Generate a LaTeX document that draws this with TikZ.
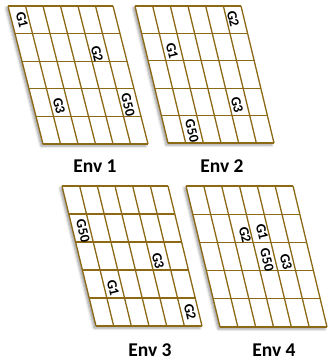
\documentclass[tikz,border=0pt]{standalone}
\usepackage{fontspec}
\setmainfont{Carlito}
\usepackage{tikz}
\usetikzlibrary{shadows.blur}
\definecolor{gridgold}{HTML}{8C6914}

\begin{document}
\begin{tikzpicture}[x=1pt,y=-1pt,
    glabel/.style={font=\fontsize{14}{14}\selectfont\bfseries,inner sep=0pt,rotate=-76},
    envlabel/.style={font=\fontsize{19.5}{20}\selectfont\bfseries,inner sep=0pt}]
  \useasboundingbox (0,0) rectangle (329,363);
  % corner x / corner y / width / height / shear of each grid
  \foreach \gx/\gy/\gw/\gh/\gs in {8/6/105/138/35, 135/6/106/137/33, 62/186/106/140/34, 186/186/107/141/34}{
    \begin{scope}[shift={(\gx,\gy)}]
      \fill[white,blur shadow={shadow xshift=-2pt,shadow yshift=-2pt,shadow blur radius=2.5pt,shadow opacity=40}]
        (0,0) -- (\gw,0) -- (\gw+\gs,\gh) -- (\gs,\gh) -- cycle;
      \foreach \i in {0,...,6}
        \draw[gridgold,line width=1.3pt] ({\i*\gw/6},0) -- ({\gs+\i*\gw/6},\gh);
      \foreach \j in {0,...,5}
        \draw[gridgold,line width=1.3pt] ({\j*\gs/5},{\j*\gh/5}) -- ({\j*\gs/5+\gw},{\j*\gh/5});
    \end{scope}
  }
  % Env 1
  \node[glabel] (e1g1)  at (22,20)   {G1};
  \node[glabel] (e1g2)  at (97,54)   {G2};
  \node[glabel] (e1g3)  at (59,106)  {G3};
  \node[glabel] (e1g50) at (128,105) {G50};
  % Env 2
  \node[glabel] (e2g2)  at (233,19)  {G2};
  \node[glabel] (e2g1)  at (172,51)  {G1};
  \node[glabel] (e2g3)  at (237,105) {G3};
  \node[glabel] (e2g50) at (192,131) {G50};
  % Env 3
  \node[glabel] (e3g50) at (83,231)  {G50};
  \node[glabel] (e3g3)  at (158,261) {G3};
  \node[glabel] (e3g1)  at (113,288) {G1};
  \node[glabel] (e3g2)  at (190,312) {G2};
  % Env 4
  \node[glabel] (e4g2)  at (245,235) {G2};
  \node[glabel] (e4g1)  at (262,232) {G1};
  \node[glabel] (e4g50) at (267,260) {G50};
  \node[glabel] (e4g3)  at (286,262) {G3};
  % names
  \node[envlabel] (env1) at (95,166)  {Env 1};
  \node[envlabel] (env2) at (222,166) {Env 2};
  \node[envlabel] (env3) at (150,350) {Env 3};
  \node[envlabel] (env4) at (274,350) {Env 4};
\end{tikzpicture}
\end{document}
